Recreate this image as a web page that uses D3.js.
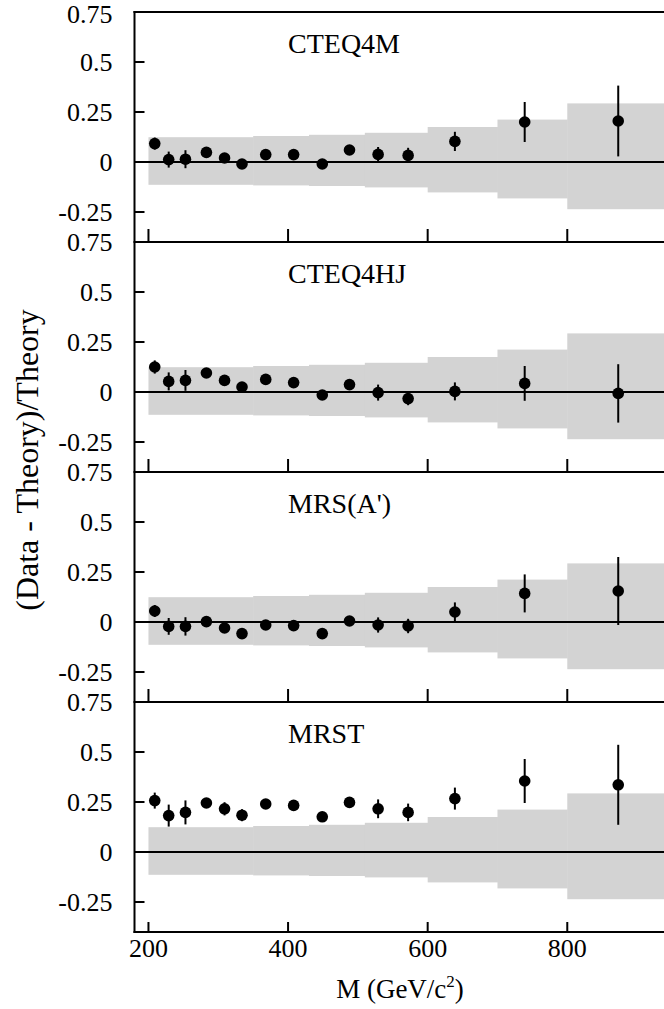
<!DOCTYPE html>
<html>
<head>
<meta charset="utf-8">
<script src="https://cdn.jsdelivr.net/npm/d3@7"></script>
<style>
  html, body { margin: 0; padding: 0; background: #fff; }
  svg { display: block; }
  text { font-family: "Liberation Serif", "Times New Roman", serif; fill: #000; }
</style>
</head>
<body>
<svg id="chart" width="664" height="1009"></svg>
<script>
// ---- data ----
const mass = [209, 229, 253, 283, 309, 334, 368, 408, 449, 488, 529, 572, 639, 739, 873];
const panelNames = ["CTEQ4M", "CTEQ4HJ", "MRS(A')", "MRST"];
const cteq4mVal = [0.092, 0.012, 0.014, 0.048, 0.020, -0.010, 0.037, 0.037, -0.010, 0.060, 0.038, 0.033, 0.103, 0.200, 0.205];
const cteq4mErr = [0.030, 0.040, 0.045, 0.020, 0.020, 0.020, 0.020, 0.020, 0.020, 0.020, 0.037, 0.038, 0.048, 0.100, 0.177];
const cteq4hjVal = [0.125, 0.053, 0.058, 0.095, 0.058, 0.025, 0.063, 0.047, -0.015, 0.037, -0.003, -0.033, 0.003, 0.043, -0.007];
const cteq4hjErr = [0.033, 0.045, 0.052, 0.020, 0.020, 0.020, 0.020, 0.020, 0.020, 0.020, 0.040, 0.033, 0.045, 0.087, 0.146];
const mrsaVal = [0.055, -0.022, -0.022, 0.002, -0.030, -0.058, -0.015, -0.018, -0.058, 0.005, -0.015, -0.020, 0.050, 0.143, 0.155];
const mrsaErr = [0.030, 0.042, 0.046, 0.020, 0.020, 0.020, 0.020, 0.020, 0.020, 0.020, 0.038, 0.036, 0.048, 0.095, 0.170];
const mrstVal = [0.257, 0.182, 0.198, 0.245, 0.216, 0.184, 0.240, 0.233, 0.176, 0.248, 0.216, 0.198, 0.267, 0.355, 0.336];
const mrstErr = [0.040, 0.055, 0.060, 0.020, 0.033, 0.030, 0.020, 0.020, 0.020, 0.020, 0.047, 0.044, 0.055, 0.110, 0.200];
// systematic uncertainty band (bin edges and upper/lower bounds)
const bandEdges = [200, 350, 430, 510, 600, 700, 800, 940];
const bandUpper = [0.124, 0.130, 0.136, 0.146, 0.175, 0.212, 0.293];
const bandLower = [-0.114, -0.117, -0.120, -0.127, -0.152, -0.182, -0.236];
const xTicks = [200, 400, 600, 800];
const yTicks = [0.5, 0.25, -0.25];
const yLabels = [0.75, 0.5, 0.25, 0, -0.25];

const seriesVals = [cteq4mVal, cteq4hjVal, mrsaVal, mrstVal];
const seriesErrs = [cteq4mErr, cteq4hjErr, mrsaErr, mrstErr];

// ---- layout ----
const svg = d3.select("#chart");
const left = 134.5, right = 665;
const top0 = 12, panelH = 230;
const x = d3.scaleLinear().domain([180, 940]).range([left, right]);

const fmt = v => (v === 0 ? "0" : String(v));

panelNames.forEach((name, i) => {
  const top = top0 + i * panelH;
  const y = d3.scaleLinear().domain([-0.4, 0.75]).range([top + panelH, top]);
  const g = svg.append("g");

  // band
  const bins = bandUpper.map((u, k) => ({x0: bandEdges[k], x1: bandEdges[k + 1], hi: u, lo: bandLower[k]}));
  g.selectAll("rect.band").data(bins).enter().append("rect")
    .attr("x", d => x(d.x0))
    .attr("width", d => x(d.x1) - x(d.x0) + 0.5)
    .attr("y", d => y(d.hi))
    .attr("height", d => y(d.lo) - y(d.hi))
    .attr("fill", "#d3d3d3");

  // zero line
  g.append("line").attr("x1", left).attr("x2", right)
    .attr("y1", y(0)).attr("y2", y(0))
    .attr("stroke", "#000").attr("stroke-width", 2);

  // top border
  g.append("line").attr("x1", left - 1).attr("x2", right)
    .attr("y1", y(0.75)).attr("y2", y(0.75))
    .attr("stroke", "#000").attr("stroke-width", 2);

  // y ticks
  g.selectAll("line.yt").data(yTicks).enter().append("line")
    .attr("x1", left).attr("x2", left + 10)
    .attr("y1", d => y(d)).attr("y2", d => y(d))
    .attr("stroke", "#000").attr("stroke-width", 2);

  // x ticks at bottom of panel
  const tl = i === 3 ? 10 : 13;
  g.selectAll("line.xt").data(xTicks).enter().append("line")
    .attr("x1", d => x(d)).attr("x2", d => x(d))
    .attr("y1", y(-0.4)).attr("y2", y(-0.4) - tl)
    .attr("stroke", "#000").attr("stroke-width", 2);

  // y labels
  g.selectAll("text.yl").data(yLabels).enter().append("text")
    .attr("x", 112.5).attr("y", d => y(d) + (i === 0 && d === 0.75 ? 1.5 : 0))
    .attr("dy", "0.35em")
    .attr("text-anchor", "end")
    .attr("font-size", 26)
    .text(fmt);

  // panel label
  g.append("text").attr("x", 288).attr("y", top + 40.7)
    .attr("font-size", 28).text(name);

  // error bars
  const vals = seriesVals[i], errs = seriesErrs[i];
  const pts = mass.map((m, k) => ({m, v: vals[k], e: errs[k]}));
  g.selectAll("line.err").data(pts).enter().append("line")
    .attr("x1", d => x(d.m)).attr("x2", d => x(d.m))
    .attr("y1", d => y(d.v - d.e)).attr("y2", d => y(d.v + d.e))
    .attr("stroke", "#000").attr("stroke-width", 2);
  g.selectAll("circle.pt").data(pts).enter().append("circle")
    .attr("cx", d => x(d.m)).attr("cy", d => y(d.v))
    .attr("r", 5.8).attr("fill", "#000");
});

// left axis line and bottom border
const bottom = top0 + 4 * panelH;
svg.append("line").attr("x1", left).attr("x2", left)
  .attr("y1", top0 - 1).attr("y2", bottom + 1)
  .attr("stroke", "#000").attr("stroke-width", 2);
svg.append("line").attr("x1", left - 1).attr("x2", right)
  .attr("y1", bottom).attr("y2", bottom)
  .attr("stroke", "#000").attr("stroke-width", 2);

// x tick labels
svg.selectAll("text.xl").data(xTicks).enter().append("text")
  .attr("x", d => x(d)).attr("y", 957)
  .attr("text-anchor", "middle").attr("font-size", 26)
  .text(d => d);

// x axis title
const xt = svg.append("text").attr("x", 400).attr("y", 998)
  .attr("text-anchor", "middle").attr("font-size", 27);
xt.append("tspan").text("M (GeV/c");
xt.append("tspan").attr("font-size", 17).attr("dy", -11).text("2");
xt.append("tspan").attr("dy", 11).text(")");

// y axis title
svg.append("text")
  .attr("transform", "translate(38,460) rotate(-90)")
  .attr("text-anchor", "middle").attr("font-size", 32)
  .text("(Data - Theory)/Theory");
</script>
</body>
</html>
